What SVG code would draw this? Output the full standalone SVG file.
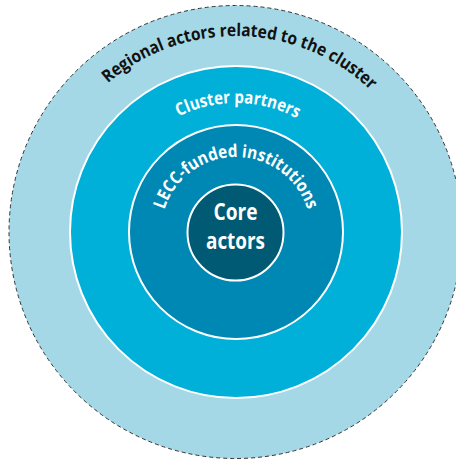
<svg xmlns="http://www.w3.org/2000/svg" xmlns:xlink="http://www.w3.org/1999/xlink" width="456" height="461" viewBox="0 0 456 461">
  <style>
    .lbl { font-family: "Open Sans", Lato, "DejaVu Sans", sans-serif; font-weight: bold; }
    .ring { stroke: #ffffff; stroke-width: 2; }
  </style>
  <defs>
    <path id="arcRegional" d="M 39.5,232 A 196 196 0 0 1 431.5,232"/>
    <path id="arcCluster" d="M 107,232 A 129 129 0 0 1 365,232"/>
    <path id="arcLecc" d="M 161,232 A 75 75 0 0 1 311,232"/>
  </defs>
  <rect width="456" height="461" fill="#ffffff"/>
  <g id="regional-actors">
    <circle cx="235.5" cy="232" r="226.5" fill="#a5d8e6" stroke="#333333" stroke-width="1" stroke-dasharray="4 3"/>
    <text class="lbl" font-size="17.5" fill="#111111"><textPath xlink:href="#arcRegional" href="#arcRegional" startOffset="50.8%" text-anchor="middle" textLength="288" lengthAdjust="spacingAndGlyphs">Regional actors related to the cluster</textPath></text>
  </g>
  <g id="cluster-partners">
    <circle class="ring" cx="236" cy="232" r="166" fill="#00b0d8"/>
    <text class="lbl" font-size="17.5" fill="#ffffff"><textPath xlink:href="#arcCluster" href="#arcCluster" startOffset="50.5%" text-anchor="middle" textLength="123" lengthAdjust="spacingAndGlyphs">Cluster partners</textPath></text>
  </g>
  <g id="lecc-funded">
    <circle class="ring" cx="236" cy="232" r="107" fill="#0088b4"/>
    <text class="lbl" font-size="17.5" fill="#ffffff"><textPath xlink:href="#arcLecc" href="#arcLecc" startOffset="50%" text-anchor="middle" textLength="190" lengthAdjust="spacingAndGlyphs">LECC-funded institutions</textPath></text>
  </g>
  <g id="core-actors">
    <circle class="ring" cx="235.5" cy="232.5" r="48" fill="#005a74"/>
    <text class="lbl" font-size="23" fill="#ffffff" text-anchor="middle" x="235.5" y="220" textLength="44" lengthAdjust="spacingAndGlyphs">Core</text>
    <text class="lbl" font-size="23" fill="#ffffff" text-anchor="middle" x="235.5" y="249" textLength="59" lengthAdjust="spacingAndGlyphs">actors</text>
  </g>
</svg>
